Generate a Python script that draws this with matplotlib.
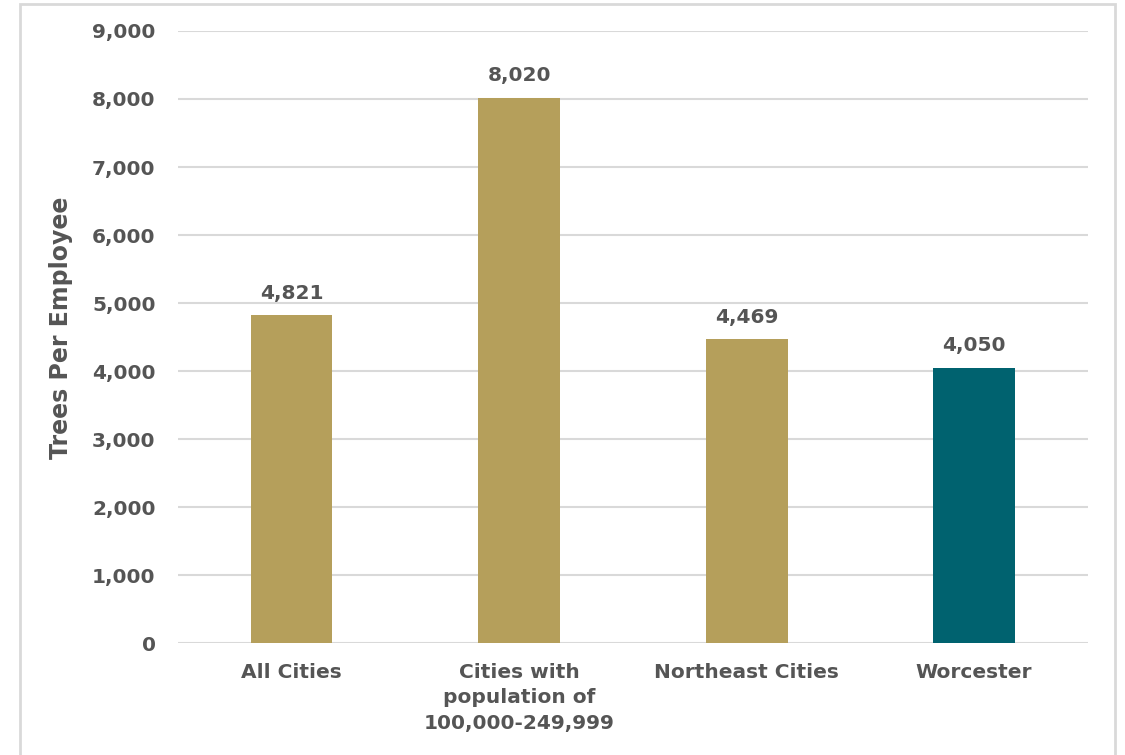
import matplotlib.pyplot as plt
from matplotlib.patches import Rectangle

categories = ["All Cities", "Cities with\npopulation of\n100,000-249,999", "Northeast Cities", "Worcester"]
trees_per_employee = [4821, 8020, 4469, 4050]
bar_colors = ["#B59F5B", "#B59F5B", "#B59F5B", "#00626F"]
yticks = [0, 1000, 2000, 3000, 4000, 5000, 6000, 7000, 8000, 9000]

text_color = "#555555"
grid_color = "#D9D9D9"

plt.rcParams["font.family"] = ["DejaVu Sans"]
plt.rcParams["font.weight"] = "bold"

fig = plt.figure(figsize=(11.25, 7.55), dpi=100)
ax = fig.add_axes([0.158, 0.148, 0.809, 0.811])

x = list(range(len(categories)))
ax.bar(x, trees_per_employee, width=0.36, color=bar_colors, zorder=3)

for xi, v in zip(x, trees_per_employee):
    ax.text(xi, v + 180, f"{v:,}", ha="center", va="bottom",
            fontsize=14.5, fontweight="bold", color=text_color)

ax.set_xlim(-0.5, 3.5)
ax.set_ylim(0, 9000)
ax.set_yticks(yticks)
ax.set_yticklabels([f"{t:,}" for t in yticks])
ax.set_xticks(x)
ax.set_xticklabels(categories, linespacing=1.45)
ax.tick_params(axis="both", length=0, labelsize=14.5, labelcolor=text_color)
ax.tick_params(axis="y", pad=16)
ax.tick_params(axis="x", pad=14)
for lab in ax.get_xticklabels() + ax.get_yticklabels():
    lab.set_fontweight("bold")

ax.yaxis.grid(True, color=grid_color, linewidth=1.5, zorder=0)
for s in ax.spines.values():
    s.set_visible(False)

ax.set_ylabel("Trees Per Employee", fontsize=17, fontweight="bold", color=text_color)
ax.yaxis.set_label_coords(-0.115, 0.515)

# outer frame of the chart area
fig.patches.append(Rectangle((20 / 1125, -0.05), 1095 / 1125, 1.05 - 4 / 755,
                             transform=fig.transFigure, fill=False,
                             edgecolor="#D9D9D9", linewidth=2))

fig.savefig("out.png", dpi=100)
